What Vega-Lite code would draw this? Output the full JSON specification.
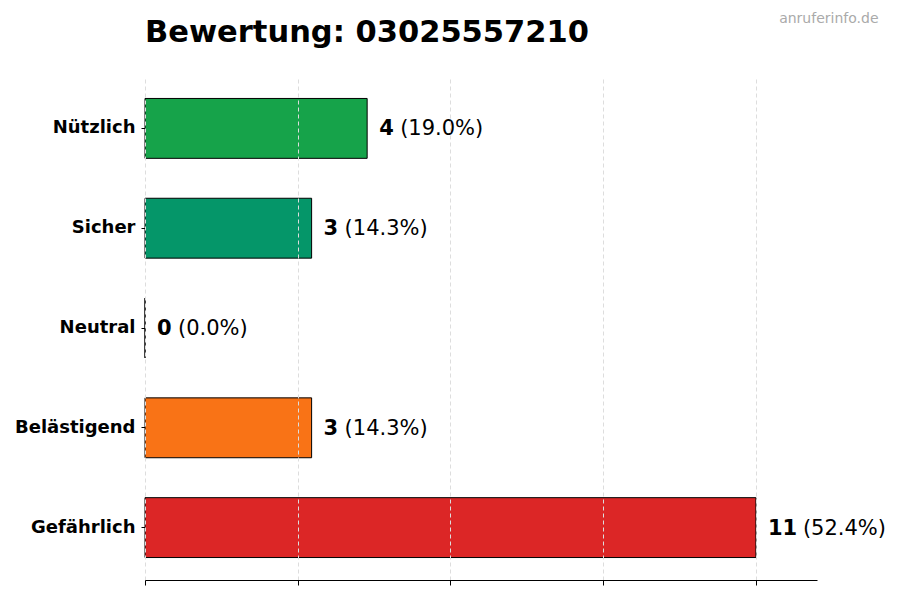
{
  "$schema": "https://vega.github.io/schema/vega-lite/v6.json",
  "autosize": "none",
  "width": 672,
  "height": 504,
  "padding": {"left": 145, "top": 76, "right": 83, "bottom": 20},
  "background": "white",
  "title": {
    "text": "Bewertung: 03025557210",
    "anchor": "start",
    "frame": "group",
    "font": "DejaVu Sans",
    "fontSize": 30.5,
    "fontWeight": "bold",
    "color": "black",
    "offset": -37
  },
  "data": {
    "values": [
      {"Typ": "Nützlich", "Anzahl": 4, "Anteil": "(19.0%)"},
      {"Typ": "Sicher", "Anzahl": 3, "Anteil": "(14.3%)"},
      {"Typ": "Neutral", "Anzahl": 0, "Anteil": "(0.0%)"},
      {"Typ": "Belästigend", "Anzahl": 3, "Anteil": "(14.3%)"},
      {"Typ": "Gefährlich", "Anzahl": 11, "Anteil": "(52.4%)"}
    ]
  },
  "encoding": {
    "y": {
      "field": "Typ",
      "type": "nominal",
      "sort": null,
      "scale": {"paddingInner": 0.4, "paddingOuter": 0.225},
      "axis": {
        "domain": false,
        "ticks": true,
        "tickSize": 4,
        "tickColor": "black",
        "labelFont": "DejaVu Sans",
        "labelFontSize": 18,
        "labelFontWeight": "bold",
        "labelColor": "black",
        "labelPadding": 6,
        "title": "anruferinfo.de",
        "titleAngle": 0,
        "titleX": 733,
        "titleY": -54,
        "titleAlign": "right",
        "titleBaseline": "alphabetic",
        "titleFont": "DejaVu Sans",
        "titleFontSize": 14,
        "titleFontWeight": "normal",
        "titleColor": "#aaaaaa"
      }
    },
    "x": {
      "field": "Anzahl",
      "type": "quantitative",
      "scale": {"domain": [0, 12.1], "nice": false},
      "axis": {
        "values": [0, 2.75, 5.5, 8.25, 11],
        "labels": false,
        "title": null,
        "tickSize": 5,
        "tickColor": "black",
        "domainColor": "black",
        "grid": true,
        "gridDash": [4, 3],
        "gridColor": "#dddddd",
        "zindex": 1
      }
    }
  },
  "layer": [
    {
      "mark": {"type": "bar", "stroke": "black", "strokeWidth": 1},
      "encoding": {
        "color": {
          "field": "Typ",
          "type": "nominal",
          "scale": {
            "domain": ["Nützlich", "Sicher", "Neutral", "Belästigend", "Gefährlich"],
            "range": ["#16a34a", "#059669", "#6b7280", "#f97316", "#dc2626"]
          },
          "legend": null
        }
      }
    },
    {
      "mark": {"type": "text", "align": "left", "baseline": "middle", "dy": 1, "dx": 12, "font": "DejaVu Sans", "fontSize": 21, "fontWeight": "bold", "color": "black"},
      "encoding": {"text": {"field": "Anzahl", "type": "quantitative"}}
    },
    {
      "transform": [{"filter": "datum.Anzahl < 10"}],
      "mark": {"type": "text", "align": "left", "baseline": "middle", "dy": 1, "dx": 33, "font": "DejaVu Sans", "fontSize": 21, "color": "black"},
      "encoding": {"text": {"field": "Anteil", "type": "nominal"}}
    },
    {
      "transform": [{"filter": "datum.Anzahl >= 10"}],
      "mark": {"type": "text", "align": "left", "baseline": "middle", "dy": 1, "dx": 47, "font": "DejaVu Sans", "fontSize": 21, "color": "black"},
      "encoding": {"text": {"field": "Anteil", "type": "nominal"}}
    }
  ],
  "config": {"view": {"stroke": null}}
}
